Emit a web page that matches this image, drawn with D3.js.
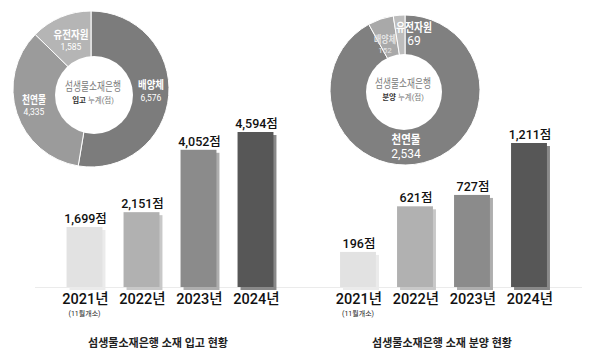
<!DOCTYPE html>
<html><head><meta charset="utf-8">
<script src="https://cdn.jsdelivr.net/npm/d3@7"></script>
<style>body{margin:0;background:#fff}svg{display:block}text{font-family:Roboto,"Noto Sans CJK KR","Noto Sans",sans-serif}</style>
</head><body>
<svg id="c" width="600" height="360"></svg>
<script>
const years = ["2021년","2022년","2023년","2024년"];
const yearNote = "(11월개소)";
const inValues = [1699, 2151, 4052, 4594];
const outValues = [196, 621, 727, 1211];
const barColors = ["#e2e2e2","#b1b1b1","#8b8b8b","#575757"];
const inPieLabels = ["배양체","천연물","유전자원"];
const inPieValues = [6576, 4335, 1585];
const outPieLabels = ["천연물","배양체","유전자원"];
const outPieValues = [2534, 152, 69];
const inTitle = "섬생물소재은행 소재 입고 현황";
const outTitle = "섬생물소재은행 소재 분양 현황";
const centerTitle = "섬생물소재은행";
const inCenterSub = ["입고"," 누계(점)"];
const outCenterSub = ["분양"," 누계(점)"];

const svg = d3.select("#c");
const fmt = d3.format(",");

svg.append("line").attr("x1",35).attr("x2",582).attr("y1",287.5).attr("y2",287.5)
  .attr("stroke","#ebebeb").attr("stroke-width",1);

// text squeezed horizontally to a target width
function squeezed(x, y, size, weight, fill, target, str) {
  const t = svg.append("text").attr("text-anchor","middle")
    .attr("font-size",size).attr("font-weight",weight).attr("fill",fill).text(str);
  const w = t.node().getComputedTextLength() || target;
  const sx = Math.min(1, target / w);
  t.attr("transform",`translate(${x},${y}) scale(${sx},1)`);
  return t;
}

function bars(values, range, domainMin, topY) {
  const x = d3.scaleBand().domain(years).range(range).paddingInner(0.37).paddingOuter(0.185);
  const y = d3.scaleLinear().domain([domainMin, d3.max(values)]).range([287, topY]);
  const g = svg.append("g");
  const data = years.map((k,i)=>({k, v: values[i], c: barColors[i]}));
  g.selectAll(".sh").data(data).join("rect")
    .attr("x", d=>x(d.k)+3).attr("y", d=>y(d.v)+3)
    .attr("width", x.bandwidth()).attr("height", d=>287-y(d.v))
    .attr("fill", d=>d3.interpolateRgb(d.c,"#fff")(0.3));
  g.selectAll(".b").data(data).join("rect")
    .attr("x", d=>x(d.k)).attr("y", d=>y(d.v))
    .attr("width", x.bandwidth()).attr("height", d=>287-y(d.v))
    .attr("fill", d=>d.c);
  g.selectAll(".v").data(data).join("text")
    .attr("x", d=>x(d.k)+x.bandwidth()/2+1).attr("y", d=>y(d.v)-4)
    .attr("text-anchor","middle").attr("font-size",12.5).attr("font-weight",500).attr("fill","#111")
    .text(d=>fmt(d.v)+"점");
  g.selectAll(".yr").data(data).join("text")
    .attr("x", d=>x(d.k)+x.bandwidth()/2+1).attr("y", 303.5)
    .attr("text-anchor","middle").attr("font-size",14.5).attr("font-weight",500).attr("fill","#111")
    .text(d=>d.k);
  g.append("text").attr("x", x(years[0])+x.bandwidth()/2).attr("y",315.5)
    .attr("text-anchor","middle").attr("font-size",7).attr("fill","#222").text(yearNote);
}
bars(inValues, [56,284], -130, 132);
bars(outValues, [329.5,557.5], -131, 143);

function donut(labels, values, colors, cx, cy, r, icx, icy, ir, labelPos, sub) {
  const pie = d3.pie().sort(null).value(d=>d.v);
  const data = pie(labels.map((l,i)=>({l, v: values[i], c: colors[i]})));
  const arc = d3.arc().innerRadius(0).outerRadius(r);
  const g = svg.append("g").attr("transform",`translate(${cx},${cy})`);
  g.selectAll("path").data(data).join("path").attr("d",arc)
    .attr("fill",d=>d.data.c).attr("stroke","#fff").attr("stroke-width",1);
  svg.append("circle").attr("cx",icx).attr("cy",icy).attr("r",ir).attr("fill","#fff");
  data.forEach((d,i)=>{
    const p = labelPos[i];
    squeezed(p[0], p[1], p[2], "bold", p[4], p[6], d.data.l);
    svg.append("text").attr("x",p[0]).attr("y",p[1]+p[3]).attr("text-anchor","middle")
      .attr("font-size",p[5]).attr("fill",p[4]).text(fmt(d.data.v));
  });
  squeezed(icx-1, icy-4, 12, "normal", "#7a7a7a", 56, centerTitle);
  const t = svg.append("text").attr("x",icx-1).attr("y",icy+8).attr("text-anchor","middle")
    .attr("font-size",7.5);
  t.append("tspan").attr("font-weight","bold").attr("fill","#333").text(sub[0]);
  t.append("tspan").attr("fill","#777").text(sub[1]);
}
donut(inPieLabels, inPieValues, ["#7c7c7c","#9b9b9b","#b5b5b5"], 91, 89, 78, 94, 95, 39,
  [[151,89,11,12,"#fff",8.5,26],[34,104,11,11,"#fff",8.5,24],[71,39,11,11,"#fff",8.5,35]], inCenterSub);
donut(outPieLabels, outPieValues, ["#808080","#a9a9a9","#bdbdbd"], 405, 90, 75, 404, 92, 38,
  [[406,144,12,14,"#fff",12,29],[385,43,10,10,"#e4e4e4",8,22],[414,32,12,13,"#fff",12,36]], outCenterSub);

svg.append("text").attr("x",158).attr("y",347).attr("text-anchor","middle")
  .attr("font-size",11).attr("font-weight","bold").attr("fill","#222").text(inTitle);
svg.append("text").attr("x",442).attr("y",347).attr("text-anchor","middle")
  .attr("font-size",11).attr("font-weight","bold").attr("fill","#222").text(outTitle);
</script>
</body></html>
